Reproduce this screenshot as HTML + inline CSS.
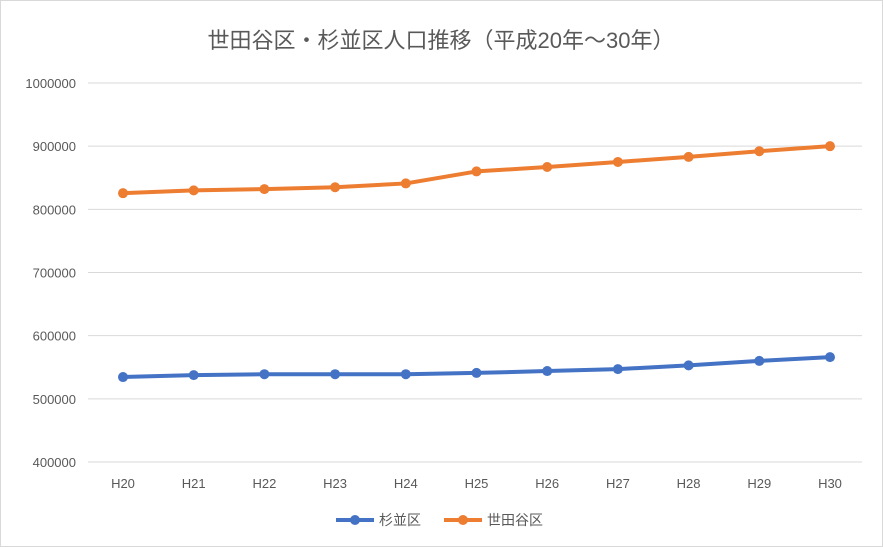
<!DOCTYPE html>
<html><head><meta charset="utf-8"><style>
body{margin:0;background:#fff;}
svg{display:block;font-family:"Liberation Sans","Noto Sans CJK JP",sans-serif;}
</style></head><body>
<svg id="chart" width="883" height="547" viewBox="0 0 883 547">
<rect x="0.5" y="0.5" width="882" height="546" fill="#fff" stroke="#d9d9d9"/>
<text x="441" y="48" text-anchor="middle" font-size="22" fill="#595959">世田谷区・杉並区人口推移（平成20年〜30年）</text>
<g id="grid"></g><g id="xlab"></g><g id="series"></g>
<g>
<g>
<line x1="336" y1="520" x2="374" y2="520" stroke="#4472c4" stroke-width="4"/><circle cx="355" cy="520" r="5" fill="#4472c4"/>
<text x="379" y="525" font-size="14" fill="#595959">杉並区</text></g>
<g>
<line x1="444" y1="520" x2="482" y2="520" stroke="#ed7d31" stroke-width="4"/><circle cx="463" cy="520" r="5" fill="#ed7d31"/>
<text x="487" y="525" font-size="14" fill="#595959">世田谷区</text></g>
</g>
</svg>
<script>
const categories=["H20","H21","H22","H23","H24","H25","H26","H27","H28","H29","H30"];
const suginami=[534500,537500,539000,539000,539000,541000,544000,547000,553000,560000,566000];
const setagaya=[825600,830000,832000,835000,841000,860000,867000,875000,883000,892000,900000];
const yTicks=[400000,500000,600000,700000,800000,900000,1000000];
const NS="http://www.w3.org/2000/svg";
const y=v=>462-(v-400000)/600000*379;
const x=i=>123+i*70.7;
function mk(t,a,p){const e=document.createElementNS(NS,t);for(const k in a)e.setAttribute(k,a[k]);p.appendChild(e);return e;}
const g=document.getElementById('grid');
yTicks.forEach(v=>{
 const l=mk('line',{x1:88,x2:862,y1:y(v),y2:y(v),stroke:'#d9d9d9','stroke-width':1},g);
 
 
 const t=mk('text',{x:76,y:y(v)+5,'text-anchor':'end','font-size':13,fill:'#595959'},g);
 t.textContent=v;
 
 
});
const xl=document.getElementById('xlab');
categories.forEach((c,i)=>{
 const t=mk('text',{x:x(i),y:488,'text-anchor':'middle','font-size':13,fill:'#595959'},xl);
 t.textContent=c;
 
 
});
const s=document.getElementById('series');
[[suginami,'#4472c4','suginami'],[setagaya,'#ed7d31','setagaya']].forEach(([d,col,n])=>{
 const p=mk('polyline',{points:d.map((v,i)=>x(i)+','+y(v)).join(' '),fill:'none',stroke:col,'stroke-width':4,'stroke-linejoin':'round'},s);
 
 
 d.forEach((v,i)=>{
  const c=mk('circle',{cx:x(i),cy:y(v),r:5,fill:col},s);
  
  
 });
});
</script>
</body></html>
